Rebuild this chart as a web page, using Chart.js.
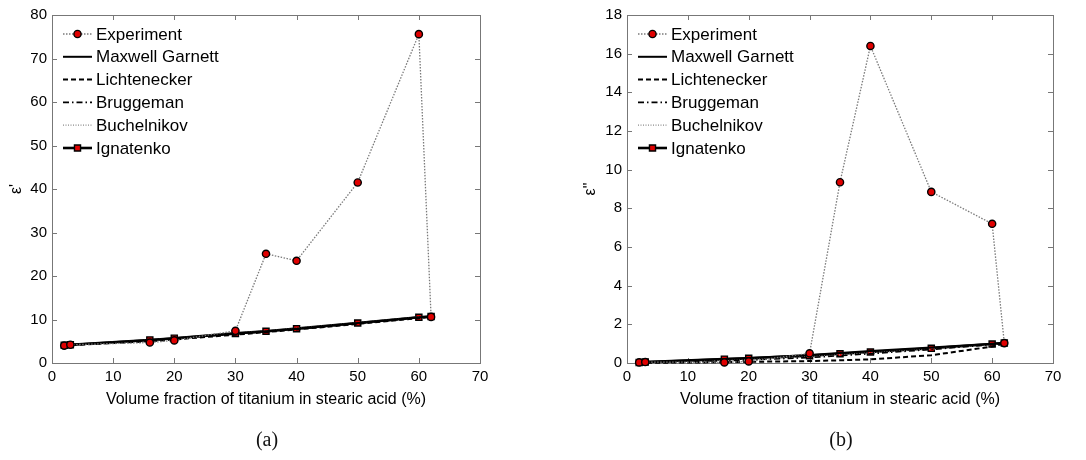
<!DOCTYPE html>
<html>
<head>
<meta charset="utf-8">
<script src="https://cdn.jsdelivr.net/npm/chart.js@4.4.0/dist/chart.umd.min.js"></script>
<style>
  body { margin: 0; background: #fff; }
  #wrap { position: relative; width: 1086px; height: 460px; }
  canvas { position: absolute; top: 0; }
  #chartA { left: 0; }
  #chartB { left: 543px; }
  .sub { position: absolute; top: 428px; width: 60px; text-align: center;
         font-family: "Liberation Serif", serif; font-size: 20px; color: #111; }
</style>
</head>
<body>
<div id="wrap">
  <canvas id="chartA" width="543" height="460"></canvas>
  <canvas id="chartB" width="543" height="460"></canvas>
  <div class="sub" style="left:237px">(a)</div>
  <div class="sub" style="left:811px">(b)</div>
</div>
<script>
// volume fraction of titanium (%)
const fractions = [2, 3, 16, 20, 30, 35, 40, 50, 60, 62];
const seriesNames = ['Experiment', 'Maxwell Garnett', 'Lichtenecker', 'Bruggeman', 'Buchelnikov', 'Ignatenko'];
const xTicks = [0, 10, 20, 30, 40, 50, 60, 70];
const yTicksA = [0, 10, 20, 30, 40, 50, 60, 70, 80];
const yTicksB = [0, 2, 4, 6, 8, 10, 12, 14, 16, 18];

// (a) real part eps'
const expA   = [4.0, 4.2, 4.7, 5.2, 7.4, 25.1, 23.5, 41.5, 75.6, 10.6];
const mgA    = [4.1, 4.2, 5.3, 5.7, 6.8, 7.3, 7.9, 9.2, 10.5, 10.7];
const lichA  = [4.0, 4.1, 5.0, 5.4, 6.5, 7.1, 7.7, 9.0, 10.3, 10.6];
const brugA  = [4.0, 4.15, 5.2, 5.6, 6.7, 7.2, 7.8, 9.1, 10.4, 10.6];
const buchA  = [4.1, 4.2, 5.3, 5.7, 6.9, 7.4, 8.0, 9.3, 10.6, 10.8];
const ignA   = [4.1, 4.2, 5.3, 5.7, 6.8, 7.3, 7.9, 9.2, 10.5, 10.7];

// (b) imaginary part eps''
const expB   = [0.03, 0.05, 0.03, 0.08, 0.5, 9.35, 16.4, 8.85, 7.2, 1.03];
const mgB    = [0.03, 0.05, 0.21, 0.26, 0.42, 0.52, 0.62, 0.8, 1.0, 1.05];
const lichB  = [0.01, 0.01, 0.04, 0.06, 0.1, 0.14, 0.19, 0.4, 0.85, 1.0];
const brugB  = [0.02, 0.03, 0.12, 0.16, 0.28, 0.38, 0.48, 0.7, 0.95, 1.02];
const buchB  = [0.03, 0.05, 0.15, 0.2, 0.33, 0.43, 0.53, 0.72, 0.95, 1.03];
const ignB   = [0.03, 0.05, 0.2, 0.24, 0.38, 0.48, 0.57, 0.76, 0.98, 1.03];

const RED = '#e00000';

function pts(vals) {
    return fractions.map((x, i) => ({x: x, y: vals[i]}));
}

function buildDatasets(series) {
    const styles = [
        {borderColor: '#7a7a7a', borderWidth: 1.3, borderDash: [1.5, 1.5], pointRadius: 3.6, pointStyle: 'circle'},
        {borderColor: '#000', borderWidth: 2, borderDash: [], pointRadius: 0},
        {borderColor: '#000', borderWidth: 2, borderDash: [5, 3], pointRadius: 0},
        {borderColor: '#000', borderWidth: 1.6, borderDash: [6, 3, 1.5, 3], pointRadius: 0},
        {borderColor: '#8a8a8a', borderWidth: 1.3, borderDash: [1, 1.5], pointRadius: 0},
        {borderColor: '#000', borderWidth: 2.6, borderDash: [], pointRadius: 4.3, pointStyle: 'rect'}
    ];
    return series.map((vals, i) => Object.assign({
        label: seriesNames[i],
        data: pts(vals),
        tension: 0,
        clip: false,
        pointBackgroundColor: RED,
        pointBorderColor: '#000',
        pointBorderWidth: 1.4,
        pointHoverRadius: 0,
        fill: false
    }, styles[i]));
}

// boxed axes with inward ticks on all sides
const matlabFrame = {
    id: 'matlabFrame',
    beforeDatasetsDraw(chart) {
        const {ctx, chartArea: a, scales} = chart;
        ctx.save();
        ctx.strokeStyle = '#777';
        ctx.lineWidth = 1;
        ctx.beginPath();
        scales.x.ticks.forEach(t => {
            const px = Math.round(scales.x.getPixelForValue(t.value)) + 0.5;
            ctx.moveTo(px, a.bottom); ctx.lineTo(px, a.bottom - 5);
            ctx.moveTo(px, a.top); ctx.lineTo(px, a.top + 5);
        });
        scales.y.ticks.forEach(t => {
            const py = Math.round(scales.y.getPixelForValue(t.value)) + 0.5;
            ctx.moveTo(a.left, py); ctx.lineTo(a.left + 5, py);
            ctx.moveTo(a.right, py); ctx.lineTo(a.right - 5, py);
        });
        ctx.stroke();
        ctx.strokeRect(Math.round(a.left) + 0.5, Math.round(a.top) + 0.5,
                       Math.round(a.right - a.left), Math.round(a.bottom - a.top));
        ctx.restore();
    }
};

// vertical legend in the top-left corner of the axes, no box
const insideLegend = {
    id: 'insideLegend',
    afterDatasetsDraw(chart) {
        const {ctx, chartArea: a} = chart;
        ctx.save();
        ctx.font = '17px "Liberation Sans", Arial, sans-serif';
        ctx.textBaseline = 'middle';
        ctx.fillStyle = '#000';
        chart.data.datasets.forEach((ds, i) => {
            const y = a.top + 19 + i * 22.8;
            const x0 = a.left + 11, x1 = a.left + 40;
            ctx.strokeStyle = ds.borderColor;
            ctx.lineWidth = ds.borderWidth;
            ctx.setLineDash(ds.borderDash || []);
            ctx.beginPath();
            ctx.moveTo(x0, y); ctx.lineTo(x1, y);
            ctx.stroke();
            ctx.setLineDash([]);
            if (ds.pointRadius > 0) {
                ctx.fillStyle = RED;
                ctx.strokeStyle = '#000';
                ctx.lineWidth = 1.4;
                Chart.helpers.drawPoint(ctx, {pointStyle: ds.pointStyle, radius: ds.pointRadius, rotation: 0, borderWidth: 1.4}, (x0 + x1) / 2, y);
            }
            ctx.fillStyle = '#000';
            ctx.fillText(ds.label, a.left + 44, y + 1);
        });
        ctx.restore();
    }
};

function makeChart(id, series, yMax, yStep, yTitle, yWidth, padRight, titlePad) {
    const tickFont = {family: '"Liberation Sans", Arial, sans-serif', size: 15};
    return new Chart(document.getElementById(id), {
        type: 'line',
        data: {datasets: buildDatasets(series)},
        options: {
            responsive: false,
            animation: false,
            devicePixelRatio: 1,
            layout: {padding: {left: 0, right: padRight, top: 15, bottom: 50}},
            plugins: {legend: {display: false}, tooltip: {enabled: false}},
            scales: {
                x: {
                    type: 'linear', min: 0, max: 70,
                    ticks: {stepSize: 10, color: '#000', font: tickFont, padding: 5, maxRotation: 0},
                    grid: {display: false, drawTicks: false},
                    border: {display: false},
                    title: {display: true, text: 'Volume fraction of titanium in stearic acid (%)', color: '#000',
                            font: {family: '"Liberation Sans", Arial, sans-serif', size: 16}, padding: {top: 0, bottom: 1}},
                    afterFit(scale) { scale.height = 47; }
                },
                y: {
                    type: 'linear', min: 0, max: yMax,
                    ticks: {stepSize: yStep, color: '#000', font: tickFont, padding: 5},
                    grid: {display: false, drawTicks: false},
                    border: {display: false},
                    title: {display: true, text: yTitle, color: '#000',
                            font: {family: '"Liberation Sans", Arial, sans-serif', size: 16}, padding: {top: titlePad, bottom: 0}},
                    afterFit(scale) { scale.width = yWidth; }
                }
            }
        },
        plugins: [matlabFrame, insideLegend]
    });
}

makeChart('chartA', [expA, mgA, lichA, brugA, buchA, ignA], yTicksA[yTicksA.length - 1], yTicksA[1] - yTicksA[0], "\u03b5'", 52, 63, 7);
makeChart('chartB', [expB, mgB, lichB, brugB, buchB, ignB], yTicksB[yTicksB.length - 1], yTicksB[1] - yTicksB[0], '\u03b5"', 84, 33, 38);
</script>
</body>
</html>
